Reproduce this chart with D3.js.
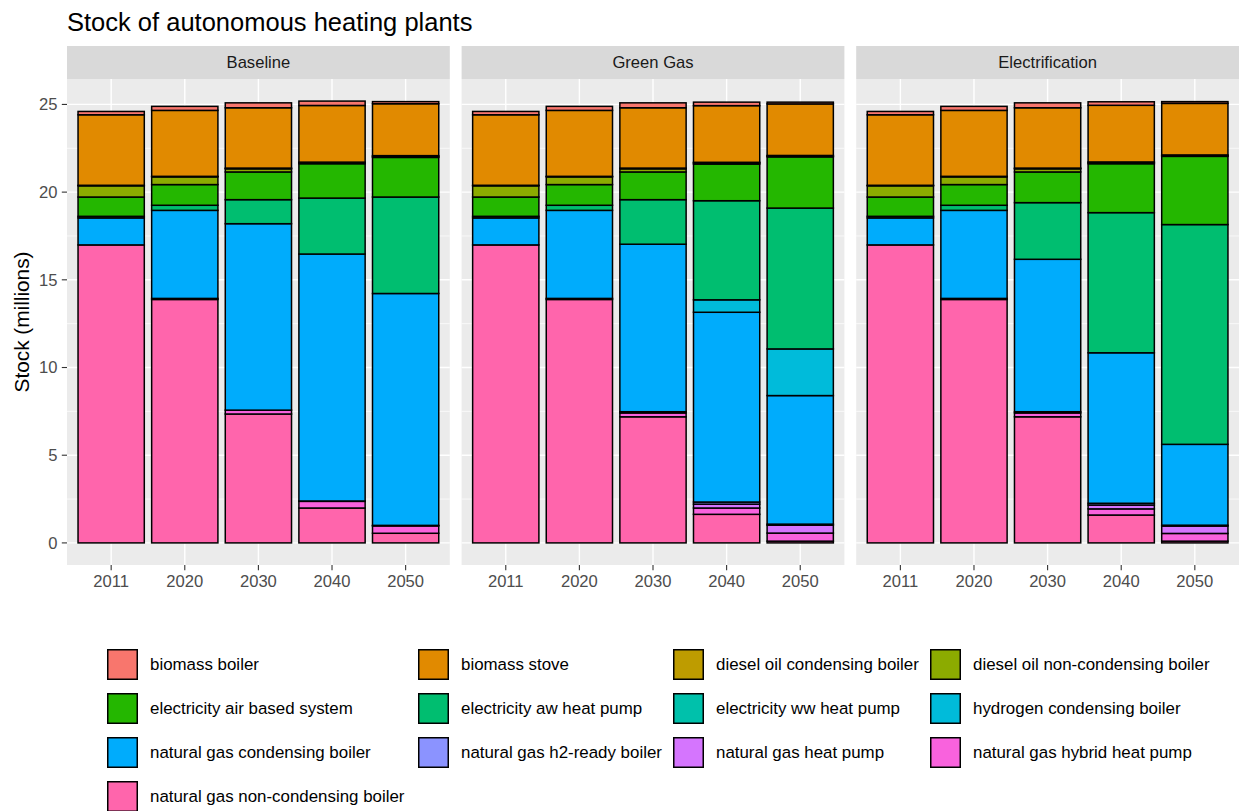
<!DOCTYPE html>
<html>
<head>
<meta charset="utf-8">
<script src="https://cdn.jsdelivr.net/npm/d3@7"></script>
<style>
  html, body { margin: 0; padding: 0; background: #ffffff; }
  svg { display: block; font-family: "Liberation Sans", Arial, sans-serif; }
</style>
</head>
<body>
<svg id="chart" width="1239" height="811"></svg>
<script>
// ---------------- DATA ----------------
const title = "Stock of autonomous heating plants";
const yTitle = "Stock (millions)";
const scenarios = ["Baseline", "Green Gas", "Electrification"];
const years = ["2011", "2020", "2030", "2040", "2050"];
const yTicks = [0, 5, 10, 15, 20, 25];
const technologies = [
  "biomass boiler",
  "biomass stove",
  "diesel oil condensing boiler",
  "diesel oil non-condensing boiler",
  "electricity air based system",
  "electricity aw heat pump",
  "electricity ww heat pump",
  "hydrogen condensing boiler",
  "natural gas condensing boiler",
  "natural gas h2-ready boiler",
  "natural gas heat pump",
  "natural gas hybrid heat pump",
  "natural gas non-condensing boiler"
];
const techColors = [
  "#F8766D", "#E18A00", "#BE9C00", "#8CAB00", "#24B700", "#00BE70", "#00C1AB",
  "#00BBDA", "#00ACFC", "#8B93FF", "#D575FE", "#F962DD", "#FF65AC"
];
// rows = technologies (same order as above), columns = years
const baselineValues = [
  [0.19, 0.23, 0.28, 0.25, 0.12],
  [4.02, 3.76, 3.44, 3.23, 2.96],
  [0.03, 0.03, 0.04, 0.04, 0.05],
  [0.64, 0.44, 0.18, 0.05, 0.05],
  [1.10, 1.18, 1.58, 1.96, 2.26],
  [0.09, 0.29, 1.37, 3.19, 5.50],
  [0.00, 0.00, 0.00, 0.00, 0.00],
  [0.00, 0.00, 0.00, 0.00, 0.00],
  [1.54, 5.02, 10.63, 14.08, 13.22],
  [0.00, 0.00, 0.00, 0.00, 0.00],
  [0.00, 0.00, 0.00, 0.02, 0.03],
  [0.00, 0.06, 0.22, 0.38, 0.42],
  [16.99, 13.88, 7.35, 1.99, 0.55]
];
const greenGasValues = [
  [0.19, 0.23, 0.28, 0.20, 0.10],
  [4.02, 3.76, 3.44, 3.23, 2.94],
  [0.03, 0.03, 0.04, 0.04, 0.04],
  [0.64, 0.44, 0.18, 0.06, 0.04],
  [1.10, 1.18, 1.58, 2.09, 2.92],
  [0.09, 0.29, 2.54, 5.65, 8.03],
  [0.00, 0.00, 0.00, 0.00, 0.00],
  [0.00, 0.00, 0.00, 0.71, 2.66],
  [1.54, 5.02, 9.55, 10.82, 7.33],
  [0.00, 0.00, 0.00, 0.12, 0.06],
  [0.00, 0.00, 0.07, 0.22, 0.45],
  [0.00, 0.06, 0.22, 0.36, 0.46],
  [16.99, 13.88, 7.19, 1.63, 0.10]
];
const electrificationValues = [
  [0.19, 0.23, 0.28, 0.20, 0.10],
  [4.02, 3.76, 3.44, 3.23, 2.94],
  [0.03, 0.03, 0.04, 0.04, 0.04],
  [0.64, 0.44, 0.18, 0.06, 0.04],
  [1.10, 1.18, 1.75, 2.79, 3.89],
  [0.09, 0.29, 3.23, 7.99, 12.53],
  [0.00, 0.00, 0.00, 0.00, 0.00],
  [0.00, 0.00, 0.00, 0.00, 0.00],
  [1.54, 5.02, 8.69, 8.58, 4.61],
  [0.00, 0.00, 0.00, 0.10, 0.05],
  [0.00, 0.00, 0.07, 0.22, 0.42],
  [0.00, 0.06, 0.22, 0.35, 0.44],
  [16.99, 13.88, 7.19, 1.59, 0.10]
];
const scenarioValues = [baselineValues, greenGasValues, electrificationValues];

// ---------------- LAYOUT ----------------
const svg = d3.select("#chart");
const plotLeft = 67, plotRight = 1239, panelGap = 11.8;
const stripTop = 46, stripBottom = 79, panelBottom = 565;
const panelW = (plotRight - plotLeft - 2 * panelGap) / 3;

const color = d3.scaleOrdinal().domain(technologies).range(techColors);

// build table per scenario
const tables = scenarioValues.map(vals => years.map((yr, j) => {
  const row = { year: yr };
  technologies.forEach((t, i) => { row[t] = vals[i][j]; });
  return row;
}));
const stackKeys = technologies.slice().reverse(); // first level on top
const stacker = d3.stack().keys(stackKeys);
const stacks = tables.map(t => stacker(t));

const maxTotal = d3.max(tables.flat(), r => d3.sum(technologies, t => r[t]));
const expand = maxTotal * 0.05;
const y = d3.scaleLinear().domain([-expand, maxTotal + expand]).range([panelBottom, stripBottom]);
const x = d3.scaleBand().domain(years).range([0, panelW]).paddingInner(0.1).paddingOuter(0.15);
const minorTicks = d3.range(2.5, maxTotal + expand, 5);

// title
svg.append("text").attr("x", plotLeft).attr("y", 31)
  .attr("font-size", 25.5).attr("fill", "#000").text(title);

// y axis title
svg.append("text")
  .attr("transform", `translate(29,${(stripBottom + panelBottom) / 2}) rotate(-90)`)
  .attr("text-anchor", "middle").attr("font-size", 20.8).attr("fill", "#000")
  .text(yTitle);

scenarios.forEach((sc, si) => {
  const px = plotLeft + si * (panelW + panelGap);
  const g = svg.append("g").attr("transform", `translate(${px},0)`);

  // strip
  g.append("rect").attr("x", 0).attr("y", stripTop).attr("width", panelW)
    .attr("height", stripBottom - stripTop).attr("fill", "#D9D9D9");
  g.append("text").attr("x", panelW / 2).attr("y", (stripTop + stripBottom) / 2)
    .attr("dy", "0.35em").attr("text-anchor", "middle")
    .attr("font-size", 16.6).attr("fill", "#1A1A1A").text(sc);

  // panel background
  g.append("rect").attr("x", 0).attr("y", stripBottom).attr("width", panelW)
    .attr("height", panelBottom - stripBottom).attr("fill", "#EBEBEB");

  // minor grid
  g.selectAll(".minor").data(minorTicks).join("line")
    .attr("x1", 0).attr("x2", panelW)
    .attr("y1", d => y(d)).attr("y2", d => y(d))
    .attr("stroke", "#fff").attr("stroke-width", 0.7);
  // major grid
  g.selectAll(".major").data(yTicks).join("line")
    .attr("x1", 0).attr("x2", panelW)
    .attr("y1", d => y(d)).attr("y2", d => y(d))
    .attr("stroke", "#fff").attr("stroke-width", 1.4);
  g.selectAll(".vmajor").data(years).join("line")
    .attr("x1", d => x(d) + x.bandwidth() / 2).attr("x2", d => x(d) + x.bandwidth() / 2)
    .attr("y1", stripBottom).attr("y2", panelBottom)
    .attr("stroke", "#fff").attr("stroke-width", 1.4);

  // bars
  stacks[si].forEach(layer => {
    g.append("g").selectAll("rect")
      .data(layer.filter(d => d[1] - d[0] > 0))
      .join("rect")
      .attr("x", d => x(d.data.year))
      .attr("width", x.bandwidth())
      .attr("y", d => y(d[1]))
      .attr("height", d => y(d[0]) - y(d[1]))
      .attr("fill", color(layer.key))
      .attr("stroke", "#000").attr("stroke-width", 1.5);
  });

  // x axis
  const xa = g.append("g").attr("transform", `translate(0,${panelBottom})`);
  xa.selectAll("line").data(years).join("line")
    .attr("x1", d => x(d) + x.bandwidth() / 2).attr("x2", d => x(d) + x.bandwidth() / 2)
    .attr("y1", 0).attr("y2", 5.2).attr("stroke", "#333").attr("stroke-width", 1.1);
  xa.selectAll("text").data(years).join("text")
    .attr("x", d => x(d) + x.bandwidth() / 2).attr("y", 22)
    .attr("text-anchor", "middle").attr("font-size", 16.6).attr("fill", "#4D4D4D")
    .text(d => d);

  // y axis on first panel
  if (si === 0) {
    const ya = g.append("g");
    ya.selectAll("line").data(yTicks).join("line")
      .attr("x1", -5.2).attr("x2", 0)
      .attr("y1", d => y(d)).attr("y2", d => y(d))
      .attr("stroke", "#333").attr("stroke-width", 1.1);
    ya.selectAll("text").data(yTicks).join("text")
      .attr("x", -9.5).attr("y", d => y(d)).attr("dy", "0.35em")
      .attr("text-anchor", "end").attr("font-size", 16.6).attr("fill", "#4D4D4D")
      .text(d => d);
  }
});

// legend
const legendColX = [107, 418, 673, 930];
const legendTop = 649, legendRowH = 44, keySize = 31;
const lg = svg.append("g");
technologies.forEach((t, i) => {
  const r = Math.floor(i / 4), c = i % 4;
  const kx = legendColX[c], ky = legendTop + r * legendRowH;
  lg.append("rect").attr("x", kx + 0.75).attr("y", ky + 0.75)
    .attr("width", keySize - 1.5).attr("height", keySize - 1.5)
    .attr("fill", color(t)).attr("stroke", "#000").attr("stroke-width", 1.5);
  lg.append("text").attr("x", kx + 43).attr("y", ky + keySize / 2).attr("dy", "0.35em")
    .attr("font-size", 16.9).attr("fill", "#000").text(t);
});
</script>
</body>
</html>
